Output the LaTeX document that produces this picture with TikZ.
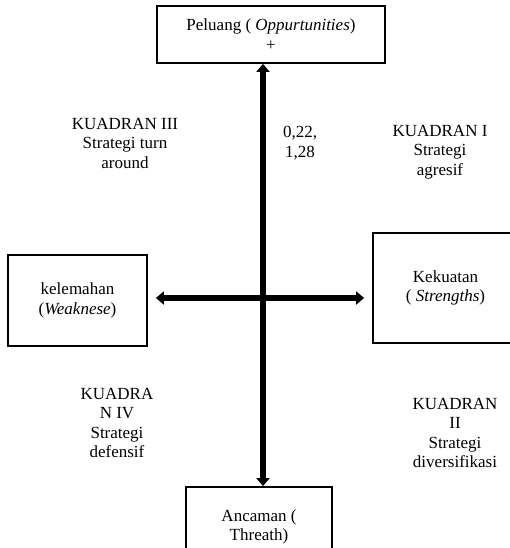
\documentclass[tikz,border=0pt]{standalone}
\usepackage{fontspec}
\setmainfont{Liberation Serif}
\usetikzlibrary{arrows.meta}

\tikzset{
  kotak/.style={draw, line width=1.8pt, minimum width=#1, inner sep=2pt, align=center},
  teks/.style={align=center, inner sep=0pt},
  panah/.style={line width=5.5pt, {Triangle[length=8pt,width=13pt]}-{Triangle[length=8pt,width=13pt]}}
}

\begin{document}
\begin{tikzpicture}[x=1pt, y=-1pt, font=\fontsize{17}{19.5}\selectfont]

\useasboundingbox (0,0) rectangle (510,548);

% =========================
% KOTAK
% =========================

\node[kotak=228pt, minimum height=57pt] (peluang) at (271,34.5)
  {Peluang ( \textit{Oppurtunities})\\+};
\node[kotak=146pt, minimum height=80pt] (ancaman) at (259,527)
  {Ancaman (\\Threath)};
\node[kotak=139pt, minimum height=91pt] (lemah) at (77.5,300.5)
  {kelemahan\\(\textit{Weaknese})};
\node[kotak=145pt, minimum height=110pt] (kuat) at (445.5,288)
  {Kekuatan\\( \textit{Strengths})};

% =========================
% SUMBU
% =========================

\coordinate (pusat) at (263,298);
\draw[panah] (peluang.south -| pusat) -- (ancaman.north -| pusat);
\draw[panah] (lemah.east |- pusat) ++(8,0) coordinate (kiri)
  -- ([xshift=-8pt]kuat.west |- pusat);

% =========================
% KUADRAN
% =========================

\node[teks] (k3) at (125,143) {KUADRAN III\\Strategi turn\\around};
\node[teks] (nilai) at (300,143) {0,22,\\1,28};
\node[teks] (k1) at (440,152) {KUADRAN I\\Strategi\\agresif};
\node[teks] (k4) at (117,423) {KUADRA\\N IV\\Strategi\\defensif};
\node[teks] (k2) at (455,433) {KUADRAN\\II\\Strategi\\diversifikasi};

\end{tikzpicture}
\end{document}
